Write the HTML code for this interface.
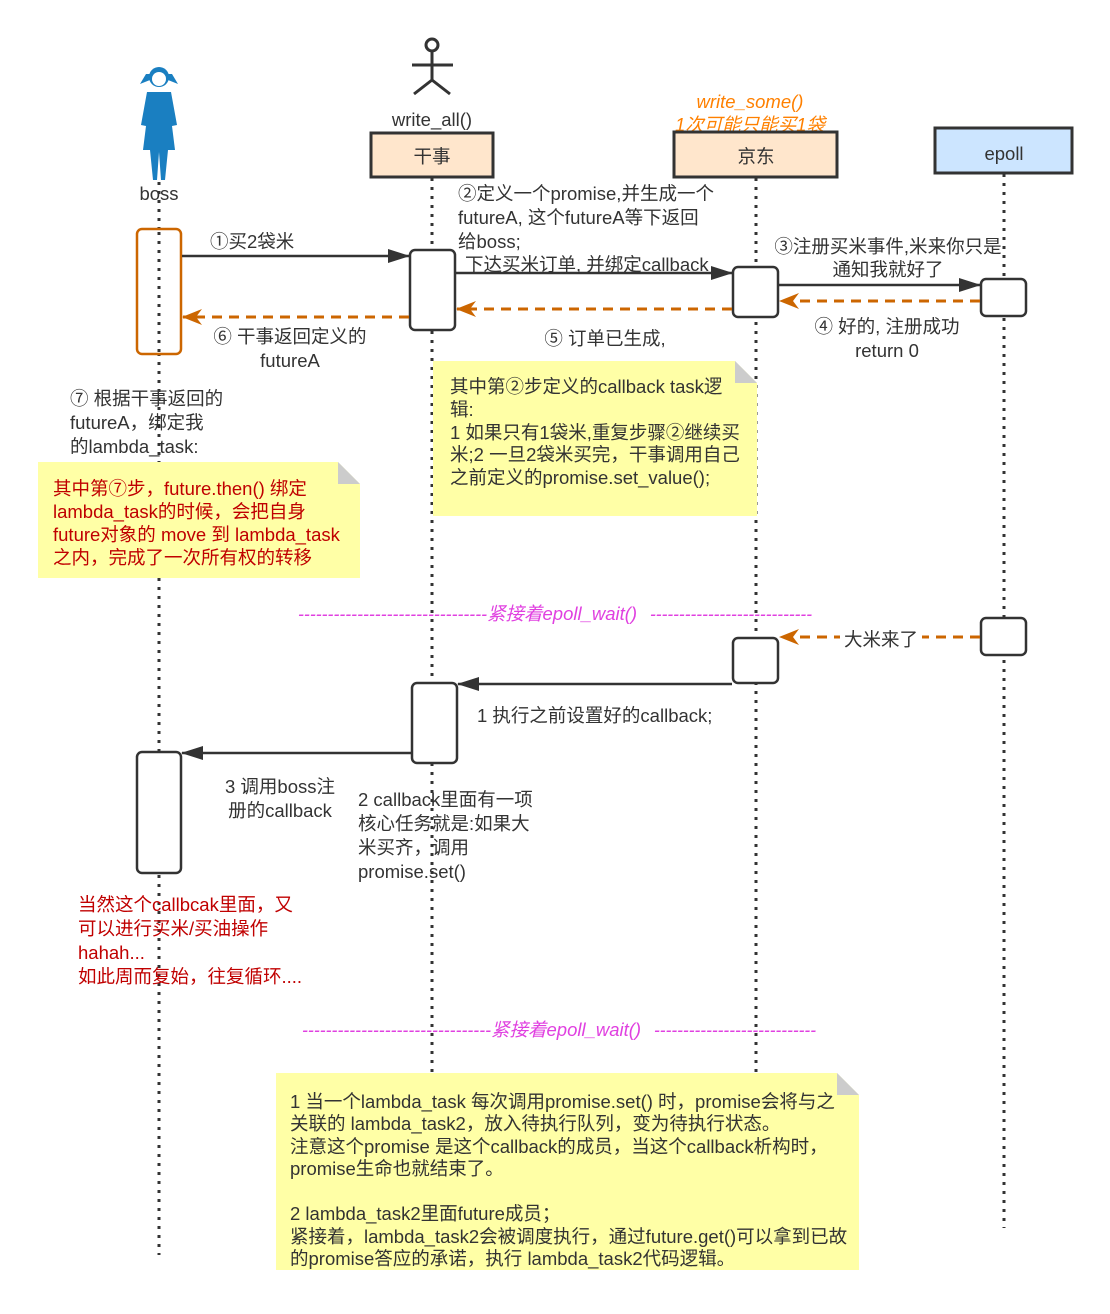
<!DOCTYPE html>
<html><head><meta charset="utf-8"><style>
body{margin:0;background:#fff}
svg text{font-family:"Liberation Sans","Noto Sans CJK SC",sans-serif;font-size:18.5px;fill:#333}
</style></head><body>
<svg width="1110" height="1309" xmlns="http://www.w3.org/2000/svg">
<defs>
<marker id="ab" markerWidth="22" markerHeight="14" refX="21" refY="7" orient="auto" markerUnits="userSpaceOnUse"><path d="M0,0 L22,7 L0,14 z" fill="#333"/></marker>
<marker id="ao" markerWidth="20" markerHeight="16" refX="19" refY="8" orient="auto" markerUnits="userSpaceOnUse"><path d="M0,0 L20,8 L0,16 L6,8 z" fill="#cc6600"/></marker>
</defs>
<g stroke="#333" stroke-width="3" stroke-dasharray="3,6">
<line x1="159" y1="182" x2="159" y2="1255"/>
<line x1="432" y1="178" x2="432" y2="1075"/>
<line x1="756" y1="178" x2="756" y2="1075"/>
<line x1="1004" y1="174" x2="1004" y2="1228"/>
</g>
<g fill="#1a7fc1">
<circle cx="159" cy="77" r="10"/>
<path d="M146,74 L172,74 L178,84 L168,80 L150,80 L140,84 Z"/>
<path d="M147,92 L171,92 L177,125 L172,126 L175,150 L168,150 L165,180 L161,180 L159,152 L157,180 L153,180 L150,150 L143,150 L146,126 L141,125 Z"/>
</g>
<circle cx="159" cy="79" r="7" fill="#fff"/>
<text x="159" y="200" text-anchor="middle">boss</text>
<g stroke="#333" stroke-width="3" fill="none">
<circle cx="432" cy="45" r="6"/>
<line x1="432" y1="51" x2="432" y2="80"/>
<line x1="412" y1="65" x2="453" y2="65"/>
<line x1="414" y1="94" x2="432" y2="80"/>
<line x1="450" y1="94" x2="432" y2="80"/>
</g>
<text x="432" y="126" text-anchor="middle">write_all()</text>
<rect x="371" y="133" width="122" height="44" fill="#ffe6cc" stroke="#333" stroke-width="3"/>
<text x="432" y="163" text-anchor="middle">干事</text>
<text x="750" y="108" text-anchor="middle" style="fill:#ff8000;font-style:italic">write_some()</text>
<text x="750" y="131" text-anchor="middle" style="fill:#ff8000;font-style:italic">1次可能只能买1袋</text>
<rect x="674" y="132" width="163" height="45" fill="#ffe6cc" stroke="#333" stroke-width="3"/>
<text x="756" y="163" text-anchor="middle">京东</text>
<rect x="935" y="128" width="137" height="45" fill="#cce5ff" stroke="#333" stroke-width="3"/>
<text x="1004" y="160" text-anchor="middle">epoll</text>
<rect x="137" y="229" width="44" height="125" rx="5" fill="#fff" stroke="#cc6600" stroke-width="2.5"/>
<line x1="159" y1="232" x2="159" y2="352" stroke="#333" stroke-width="3" stroke-dasharray="3,6"/>
<g fill="#fff" stroke="#333" stroke-width="2.5">
<rect x="410" y="250" width="45" height="80" rx="5"/>
<rect x="733" y="267" width="45" height="50" rx="5"/>
<rect x="981" y="279" width="45" height="37" rx="5"/>
<rect x="981" y="618" width="45" height="37" rx="5"/>
<rect x="733" y="638" width="45" height="45" rx="5"/>
<rect x="412" y="683" width="45" height="80" rx="5"/>
<rect x="137" y="752" width="44" height="121" rx="5"/>
</g>
<g stroke="#333" stroke-width="2.5" marker-end="url(#ab)">
<line x1="182" y1="256" x2="409" y2="256"/>
<line x1="456" y1="273" x2="732" y2="273"/>
<line x1="779" y1="285" x2="980" y2="285"/>
<line x1="732" y1="684" x2="458" y2="684"/>
<line x1="411" y1="753" x2="182" y2="753"/>
</g>
<g stroke="#cc6600" stroke-width="3" stroke-dasharray="10,7" marker-end="url(#ao)">
<line x1="980" y1="301" x2="780" y2="301"/>
<line x1="732" y1="309" x2="457" y2="309"/>
<line x1="409" y1="317" x2="183" y2="317"/>
<line x1="980" y1="637" x2="780" y2="637"/>
</g>
<rect x="840" y="627" width="82" height="22" fill="#fff"/>
<text x="881" y="646" text-anchor="middle">大米来了</text>
<text x="210" y="248">①买2袋米</text>
<text x="458" y="200">②定义一个promise,并生成一个</text>
<text x="458" y="224">futureA, 这个futureA等下返回</text>
<text x="458" y="248">给boss;</text>
<text x="465" y="271">下达买米订单, 并绑定callback</text>
<text x="888" y="253" text-anchor="middle">③注册买米事件,米来你只是</text>
<text x="888" y="276" text-anchor="middle">通知我就好了</text>
<text x="887" y="333" text-anchor="middle">④ 好的, 注册成功</text>
<text x="887" y="357" text-anchor="middle">return 0</text>
<text x="605" y="345" text-anchor="middle">⑤ 订单已生成,</text>
<text x="290" y="343" text-anchor="middle">⑥ 干事返回定义的</text>
<text x="290" y="367" text-anchor="middle">futureA</text>
<text x="70" y="405">⑦ 根据干事返回的</text>
<text x="70" y="429">futureA，绑定我</text>
<text x="70" y="453">的lambda_task:</text>
<path d="M433,361 L735,361 L757,383 L757,516 L433,516 Z" fill="#ffffa6"/>
<path d="M735,361 L757,383 L735,383 Z" fill="#ccc"/>
<g style="font-size:17.3px">
<text x="450" y="393">其中第②步定义的callback task逻</text>
<text x="450" y="416">辑:</text>
<text x="450" y="439">1 如果只有1袋米,重复步骤②继续买</text>
<text x="450" y="461">米;2 一旦2袋米买完，干事调用自己</text>
<text x="450" y="484">之前定义的promise.set_value();</text>
</g>
<path d="M38,462 L338,462 L360,484 L360,578 L38,578 Z" fill="#ffffa6"/>
<path d="M338,462 L360,484 L338,484 Z" fill="#ccc"/>
<g style="font-size:17.3px">
<text x="53" y="495" style="fill:#c00000">其中第⑦步，future.then() 绑定</text>
<text x="53" y="518" style="fill:#c00000">lambda_task的时候，会把自身</text>
<text x="53" y="541" style="fill:#c00000">future对象的 move 到 lambda_task</text>
<text x="53" y="564" style="fill:#c00000">之内，完成了一次所有权的转移</text>
</g>
<g style="fill:#e040e0;font-style:italic">
<text x="298" y="620" textLength="189" lengthAdjust="spacingAndGlyphs" style="fill:#e040e0">--------------------------------</text>
<text x="487" y="620" style="fill:#e040e0">紧接着epoll_wait()</text>
<text x="650" y="620" textLength="162" lengthAdjust="spacingAndGlyphs" style="fill:#e040e0">----------------------------</text>
<text x="302" y="1036" textLength="189" lengthAdjust="spacingAndGlyphs" style="fill:#e040e0">--------------------------------</text>
<text x="491" y="1036" style="fill:#e040e0">紧接着epoll_wait()</text>
<text x="654" y="1036" textLength="162" lengthAdjust="spacingAndGlyphs" style="fill:#e040e0">----------------------------</text>
</g>
<text x="477" y="722">1 执行之前设置好的callback;</text>
<text x="280" y="793" text-anchor="middle">3 调用boss注</text>
<text x="280" y="817" text-anchor="middle">册的callback</text>
<text x="358" y="806">2 callback里面有一项</text>
<text x="358" y="830">核心任务就是:如果大</text>
<text x="358" y="854">米买齐，调用</text>
<text x="358" y="878">promise.set()</text>
<text x="78" y="911" style="fill:#c00000">当然这个callbcak里面，又</text>
<text x="78" y="935" style="fill:#c00000">可以进行买米/买油操作</text>
<text x="78" y="959" style="fill:#c00000">hahah...</text>
<text x="78" y="983" style="fill:#c00000">如此周而复始，往复循环....</text>
<path d="M276,1073 L837,1073 L859,1095 L859,1270 L276,1270 Z" fill="#ffffa6"/>
<path d="M837,1073 L859,1095 L837,1095 Z" fill="#ccc"/>
<g style="font-size:17.3px">
<text x="290" y="1108">1 当一个lambda_task 每次调用promise.set() 时，promise会将与之</text>
<text x="290" y="1130">关联的 lambda_task2，放入待执行队列，变为待执行状态。</text>
<text x="290" y="1153">注意这个promise 是这个callback的成员，当这个callback析构时，</text>
<text x="290" y="1175">promise生命也就结束了。</text>
<text x="290" y="1220">2 lambda_task2里面future成员；</text>
<text x="290" y="1243">紧接着，lambda_task2会被调度执行，通过future.get()可以拿到已故</text>
<text x="290" y="1265">的promise答应的承诺，执行 lambda_task2代码逻辑。</text>
</g>
</svg>
</body></html>
